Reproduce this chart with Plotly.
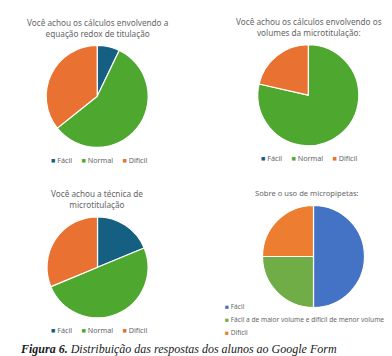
import plotly.graph_objects as go

# ---- data ----
labels_std = ["Fácil", "Normal", "Difícil"]
redox_values = [2, 16, 10]
volumes_values = [0, 22, 6]
tecnica_values = [6, 16, 10]
labels_pip = ["Fácil", "Fácil a de maior volume e difícil de menor volume", "Difícil"]
pip_values = [2, 1, 1]

titles = [
    "Você achou os cálculos envolvendo a<br>equação redox de titulação",
    "Você achou os cálculos envolvendo os<br>volumes da microtitulação:",
    "Você achou a técnica de<br>microtitulação",
    "Sobre o uso de micropipetas:",
]
caption_bold = "Figura 6."
caption_rest = " Distribuição das respostas dos alunos ao Google Form"

colors_std = ["#156082", "#4EA72E", "#E97132"]
colors_pip = ["#4472C4", "#70AD47", "#ED7D31"]

W, H = 392, 356
def px(x):
    return x / W
def py(y):
    return 1 - y / H

def dom(cx, cy, r):
    return dict(x=[px(cx - r), px(cx + r)], y=[py(cy + r), py(cy - r)])

fig = go.Figure()
pies = [
    (labels_std, redox_values, colors_std, dom(89.2, 88.3, 51)),
    (labels_std, volumes_values, colors_std, dom(300.3, 87.2, 50.5)),
    (labels_std, tecnica_values, colors_std, dom(89.5, 259.3, 50.5)),
    (labels_pip, pip_values, colors_pip, dom(305.5, 248.5, 51)),
]
for labs, vals, cols, d in pies:
    fig.add_trace(go.Pie(
        labels=labs, values=vals, sort=False, direction="clockwise", rotation=0,
        marker=dict(colors=cols, line=dict(color="white", width=1.2)),
        textinfo="none", hoverinfo="label+value+percent", showlegend=False,
        domain=d,
    ))

gray = "#666666"
tfont = dict(family="Noto Sans", size=8.2, color=gray)
anns = []
title_pos = [(89.5, 19.5), (300.7, 19), (89, 190.5), (299, 184.5)]
for t, (x, y) in zip(titles, title_pos):
    anns.append(dict(text=t, x=px(x), y=py(y), xref="paper", yref="paper",
                     xanchor="center", yanchor="middle", showarrow=False,
                     font=tfont if t != titles[3] else dict(family="Noto Sans", size=7.6, color=gray)))

def legend_text(labs, cols):
    parts = [f"<span style='color:{c}'>■</span> {l}" for l, c in zip(labs, cols)]
    return "&nbsp;&nbsp;&nbsp;&nbsp;&nbsp;".join(parts)

lfont = dict(family="Noto Sans", size=7.2, color=gray)
for (x, y) in [(90.5, 152), (301, 150), (90.5, 321.7)]:
    anns.append(dict(text=legend_text(labels_std, colors_std), x=px(x), y=py(y),
                     xref="paper", yref="paper", xanchor="center", yanchor="middle",
                     showarrow=False, font=lfont))
for (l, c), y in zip(zip(labels_pip, colors_pip), [298, 311, 324]):
    anns.append(dict(text=f"<span style='color:{c}'>■</span> {l}", x=px(215), y=py(y),
                     xref="paper", yref="paper", xanchor="left", yanchor="middle",
                     showarrow=False, font=dict(family="Noto Sans", size=6.6, color=gray)))

anns.append(dict(text=f"<b><i>{caption_bold}</i></b><i>{caption_rest}</i>",
                 x=px(10), y=py(341), xref="paper", yref="paper",
                 xanchor="left", yanchor="middle", showarrow=False,
                 font=dict(family="Liberation Serif", size=12, color="#1a1a1a")))

fig.update_layout(
    width=W, height=H, margin=dict(l=0, r=0, t=0, b=0),
    paper_bgcolor="white", plot_bgcolor="white",
    showlegend=False, annotations=anns,
)
fig.write_html("out.html")
